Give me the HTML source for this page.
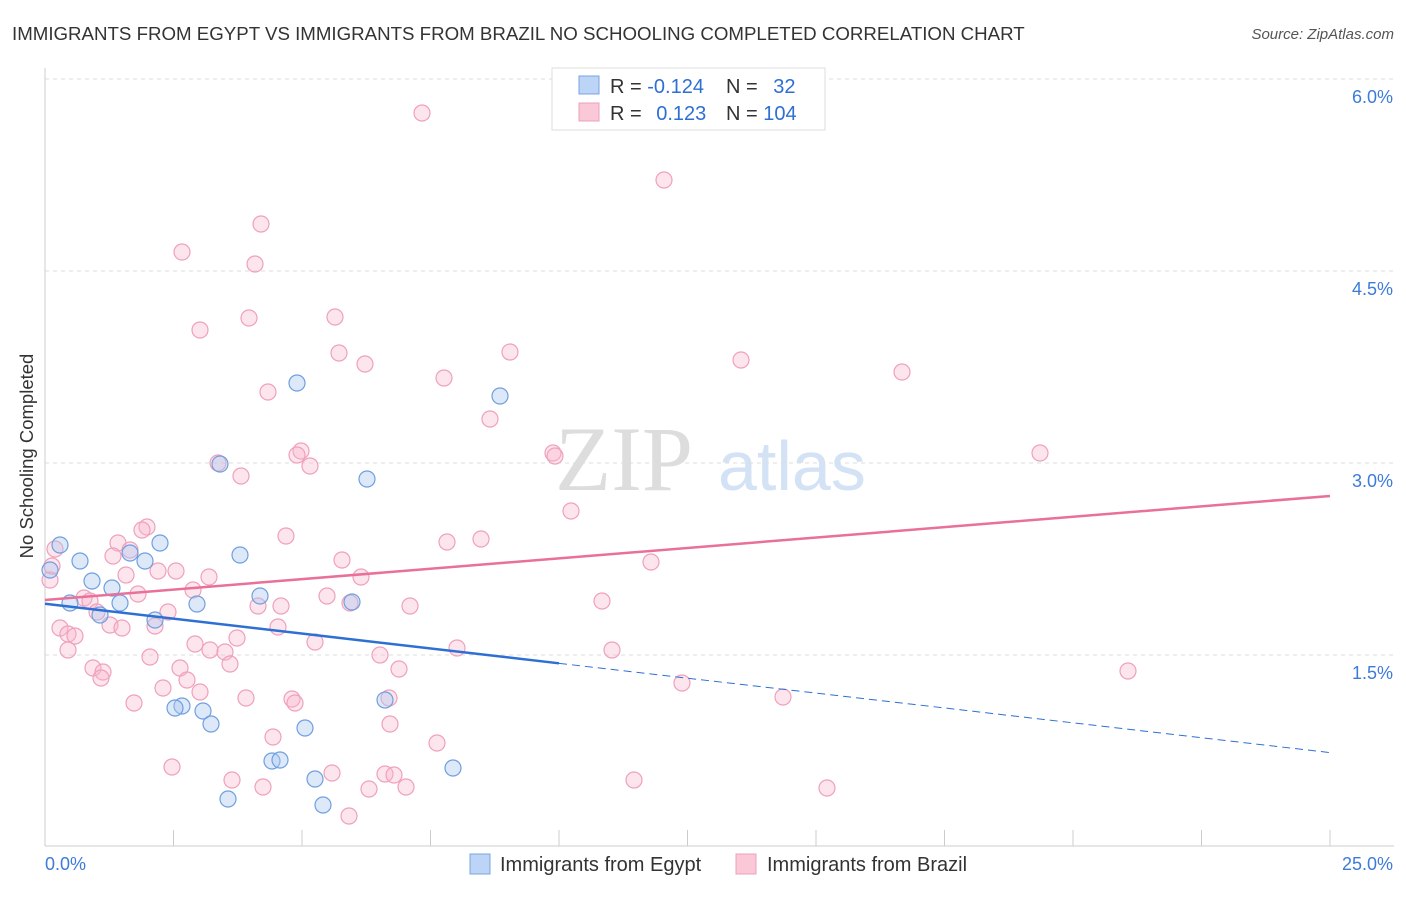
<!DOCTYPE html>
<html><head><meta charset="utf-8"><style>
body{margin:0;background:#fff;font-family:"Liberation Sans",sans-serif;}
</style></head><body>
<svg width="1406" height="892" xmlns="http://www.w3.org/2000/svg" id="chart">
<text x="12" y="40" font-size="18.7" fill="#333">IMMIGRANTS FROM EGYPT VS IMMIGRANTS FROM BRAZIL NO SCHOOLING COMPLETED CORRELATION CHART</text>
<text x="1394" y="39" font-size="15" fill="#555" text-anchor="end" font-style="italic">Source: ZipAtlas.com</text>
<text x="33" y="456" font-size="18.5" fill="#333" text-anchor="middle" transform="rotate(-90 33 456)">No Schooling Completed</text>
<text x="555" y="490" font-size="92" fill="#ddd" font-family="Liberation Serif,serif">ZIP</text>
<text x="718" y="490" font-size="70" fill="#d3e2f5">atlas</text>
<g id="grid"></g><g id="axes"></g><g id="pts"></g><g id="lines"></g>
<g>
<rect x="552" y="68" width="273" height="62" fill="#fff" stroke="#ddd"/>
<rect x="579" y="76" width="20" height="18" fill="#bcd4f5" stroke="#7aa5e0"/>
<rect x="579" y="103" width="20" height="18" fill="#fbc8d8" stroke="#eda0b8"/>
<text x="610" y="93" font-size="20" fill="#333">R = <tspan fill="#2e6fd4">-0.124</tspan></text>
<text x="726" y="93" font-size="20" fill="#333">N = <tspan fill="#2e6fd4" dx="10">32</tspan></text>
<text x="610" y="120" font-size="20" fill="#333">R = <tspan fill="#2e6fd4" dx="9">0.123</tspan></text>
<text x="726" y="120" font-size="20" fill="#333">N = <tspan fill="#2e6fd4">104</tspan></text>
</g>
<g>
<rect x="470" y="854" width="20" height="20" fill="#bcd4f5" stroke="#7aa5e0"/>
<text x="500" y="871" font-size="20" fill="#333">Immigrants from Egypt</text>
<rect x="736" y="854" width="20" height="20" fill="#fbc8d8" stroke="#eda0b8"/>
<text x="767" y="871" font-size="20" fill="#333">Immigrants from Brazil</text>
</g>
</svg>
<script>
const yTicks=[1.5,3.0,4.5,6.0];
const yTickLabels=["1.5%","3.0%","4.5%","6.0%"];
const xEnds=["0.0%","25.0%"];
const egypt=[[60,545],[80,561],[92,581],[70,603],[112,588],[120,603],[130,553],[145,561],[160,543],[100,615],[155,620],[197,604],[240,555],[260,596],[297,383],[220,464],[367,479],[352,602],[500,396],[182,706],[175,708],[203,711],[211,724],[305,728],[385,700],[272,761],[280,760],[315,779],[323,805],[228,799],[453,768],[50,570]].map(p=>[(p[0]-45)/51.4,(847-p[1])/128]);
const brazil=[[422,113],[664,180],[261,224],[182,252],[255,264],[200,330],[249,318],[335,317],[339,353],[365,364],[510,352],[268,392],[444,378],[490,419],[741,360],[902,372],[218,463],[241,476],[301,451],[297,455],[310,466],[553,453],[555,456],[1040,453],[571,511],[147,527],[142,530],[118,543],[130,550],[113,556],[286,536],[447,542],[481,539],[342,560],[361,577],[651,562],[158,571],[176,571],[126,575],[209,577],[55,549],[50,580],[52,566],[138,594],[84,598],[90,601],[97,612],[193,590],[168,612],[258,606],[281,606],[327,596],[350,603],[410,606],[602,601],[110,625],[122,628],[155,626],[60,628],[68,634],[75,636],[278,627],[237,638],[315,642],[195,644],[210,650],[225,652],[230,664],[68,650],[150,657],[93,668],[103,672],[180,668],[187,680],[101,678],[163,688],[200,692],[246,698],[134,703],[380,655],[399,669],[457,648],[612,650],[682,683],[783,697],[1128,671],[292,699],[295,703],[389,698],[390,724],[273,737],[437,743],[172,767],[232,780],[263,787],[332,773],[369,789],[385,774],[394,775],[406,787],[634,780],[827,788],[349,816]].map(p=>[(p[0]-45)/51.4,(847-p[1])/128]);
const egyptTrend=[1.90,-0.0465];
const brazilTrend=[1.93,0.0325];
const X=v=>45+v*51.4, Y=v=>847-v*128;
const NS="http://www.w3.org/2000/svg";
function mk(t,a,p){const e=document.createElementNS(NS,t);for(const k in a)e.setAttribute(k,a[k]);document.getElementById(p).appendChild(e);return e;}
yTicks.forEach((t,i)=>{
 const l=mk('line',{x1:45,x2:1394,y1:Y(t),y2:Y(t),stroke:'#ddd','stroke-dasharray':'4,4'},'grid');
 
 
 const tx=mk('text',{x:1393,y:Y(t)+24,'font-size':18,fill:'#3d7bd9','text-anchor':'end'},'axes');tx.textContent=yTickLabels[i];
 
 
});
mk('line',{x1:45,x2:45,y1:68,y2:846,stroke:'#ccc'},'axes');
mk('line',{x1:45,x2:1394,y1:846,y2:846,stroke:'#ccc'},'axes');
for(let i=1;i<=10;i++){const t=mk('line',{x1:X(i*2.5),x2:X(i*2.5),y1:830,y2:846,stroke:'#ccc'},'axes');
 
 }
let a=mk('text',{x:45,y:870,'font-size':18,fill:'#3d7bd9'},'axes');a.textContent=xEnds[0];


a=mk('text',{x:1393,y:870,'font-size':18,fill:'#3d7bd9','text-anchor':'end'},'axes');a.textContent=xEnds[1];


brazil.forEach(p=>{const c=mk('circle',{cx:X(p[0]),cy:Y(p[1]),r:8,fill:'rgba(248,180,202,0.35)',stroke:'#f0a0ba','stroke-width':1.2},'pts');
 
 });
egypt.forEach(p=>{const c=mk('circle',{cx:X(p[0]),cy:Y(p[1]),r:8,fill:'rgba(170,200,240,0.4)',stroke:'#6f9fe0','stroke-width':1.2},'pts');
 
 });
let l=mk('line',{x1:X(0),y1:Y(brazilTrend[0]),x2:X(25),y2:Y(brazilTrend[0]+25*brazilTrend[1]),stroke:'#e8709a','stroke-width':2.5},'lines');


l=mk('line',{x1:X(0),y1:Y(egyptTrend[0]),x2:X(10),y2:Y(egyptTrend[0]+10*egyptTrend[1]),stroke:'#2e6fd4','stroke-width':2.5},'lines');


l=mk('line',{x1:X(10),y1:Y(egyptTrend[0]+10*egyptTrend[1]),x2:X(25),y2:Y(egyptTrend[0]+25*egyptTrend[1]),stroke:'#2e6fd4','stroke-width':1,'stroke-dasharray':'8,5'},'lines');


</script>
</body></html>
